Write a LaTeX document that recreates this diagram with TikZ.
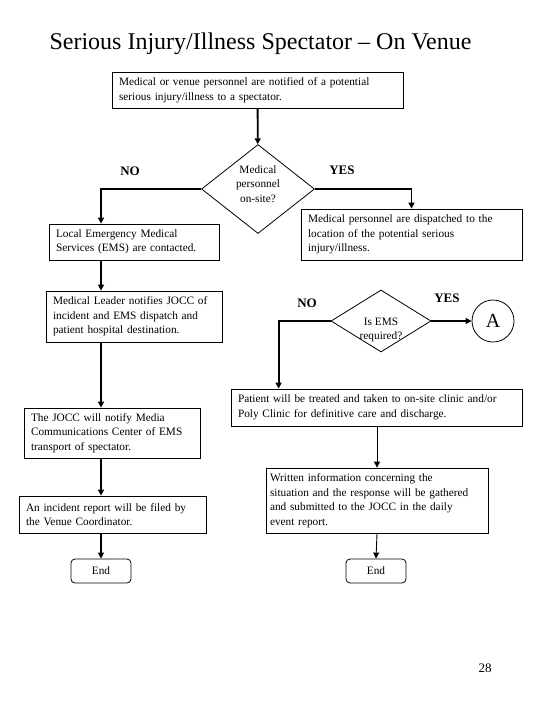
\documentclass[tikz,border=0pt]{standalone}
\usepackage{fontspec}
\setmainfont{Liberation Serif}
\usetikzlibrary{shapes.geometric,arrows.meta}
\tikzset{
  box/.style={draw, line width=0.8pt, align=left, inner xsep=7pt, inner ysep=2pt,
    font=\fontsize{11.3}{14.5}\selectfont},
  decision/.style={draw, diamond, line width=0.8pt, inner sep=0pt},
  endbox/.style={draw, rounded corners=4pt, line width=0.8pt, minimum width=60pt,
    minimum height=24pt, font=\fontsize{11.3}{14}\selectfont},
  flow/.style={line width=1.8pt, -{Triangle[length=6pt,width=6pt]}},
  thinflow/.style={line width=0.9pt, -{Triangle[length=6pt,width=6pt]}},
  answer/.style={font=\fontsize{13}{15}\selectfont\bfseries},
}
\begin{document}
\begin{tikzpicture}[x=1pt,y=-1pt]
  \useasboundingbox (0,0) rectangle (540,720);
  %% title
  \node[font=\fontsize{24}{28}\selectfont] (title) at (260.5,44) {Serious Injury/Illness Spectator -- On Venue};
  %% notification
  \node[box, text width=277pt, minimum height=36pt] (notify) at (257.5,90)
    {Medical or venue personnel are notified of a potential\\serious injury/illness to a spectator.};
  %% personnel on site?
  \node[decision, minimum width=113pt, minimum height=89pt] (onsite) at (258,189) {};
  \node[align=center, font=\fontsize{11.3}{14.5}\selectfont] (onsitetext) at (258,184) {Medical\\personnel\\on-site?};
  \node[answer] (onsiteno) at (130,171) {NO};
  \node[answer] (onsiteyes) at (342,170) {YES};
  %% left branch
  \node[box, text width=156pt, minimum height=36pt] (ems) at (134,242)
    {Local Emergency Medical\\Services (EMS) are contacted.};
  \node[box, text width=162pt, minimum height=51pt] (leader) at (134,316.5)
    {Medical Leader notifies JOCC of\\incident and EMS dispatch and\\patient hospital destination.};
  \node[box, text width=162pt, minimum height=50pt] (media) at (112,433)
    {The JOCC will notify Media\\Communications Center of EMS\\transport of spectator.};
  \node[box, text width=173pt, minimum height=37pt] (incident) at (112.5,514.5)
    {An incident report will be filed by\\the Venue Coordinator.};
  \node[endbox] (endleft) at (101,571) {End};
  %% right branch
  \node[box, text width=207pt, minimum height=51pt] (dispatch) at (411.5,234.5)
    {Medical personnel are dispatched to the\\location of the potential serious\\injury/illness.};
  \node[decision, minimum width=100pt, minimum height=62pt] (needems) at (381,321) {};
  \node[align=center, font=\fontsize{11.3}{14.5}\selectfont] (needemstext) at (381,330) {Is EMS\\required?};
  \node[answer] (needemsno) at (307,303) {NO};
  \node[answer] (needemsyes) at (447,298) {YES};
  \node[draw, circle, line width=0.8pt, minimum size=42pt, inner sep=0pt,
    font=\fontsize{20}{22}\selectfont] (a) at (493,321) {A};
  \node[box, text width=277pt, minimum height=37pt] (treat) at (376.5,407.5)
    {Patient will be treated and taken to on-site clinic and/or\\Poly Clinic for definitive care and discharge.};
  \node[box, inner xsep=4pt, text width=214pt, minimum height=65pt] (written) at (377,500.5)
    {Written information concerning the\\situation and the response will be gathered\\and submitted to the JOCC in the daily\\event report.};
  \node[endbox] (endright) at (376,571) {End};
  %% page number
  \node[font=\fontsize{13}{15}\selectfont] (page) at (485,668) {28};
  %% connectors
  \draw[flow] (notify) -- (onsite);
  \draw[flow] (onsite.west) -| (endleft |- ems.north);
  \draw[flow] (onsite.east) -| (dispatch.north);
  \draw[flow] (endleft |- ems.south) -- (endleft |- leader.north);
  \draw[flow] (endleft |- leader.south) -- (endleft |- media.north);
  \draw[flow] (endleft |- media.south) -- (endleft |- incident.north);
  \draw[flow] (endleft |- incident.south) -- (endleft.north);
  \draw[flow] (needems.east) -- (a.west);
  \draw[flow] (needems.west) -| ([xshift=48pt]treat.north west);
  \draw[thinflow] (written |- treat.south) -- (written.north);
  \draw[thinflow] (written.south) -- (endright.north);
\end{tikzpicture}
\end{document}
